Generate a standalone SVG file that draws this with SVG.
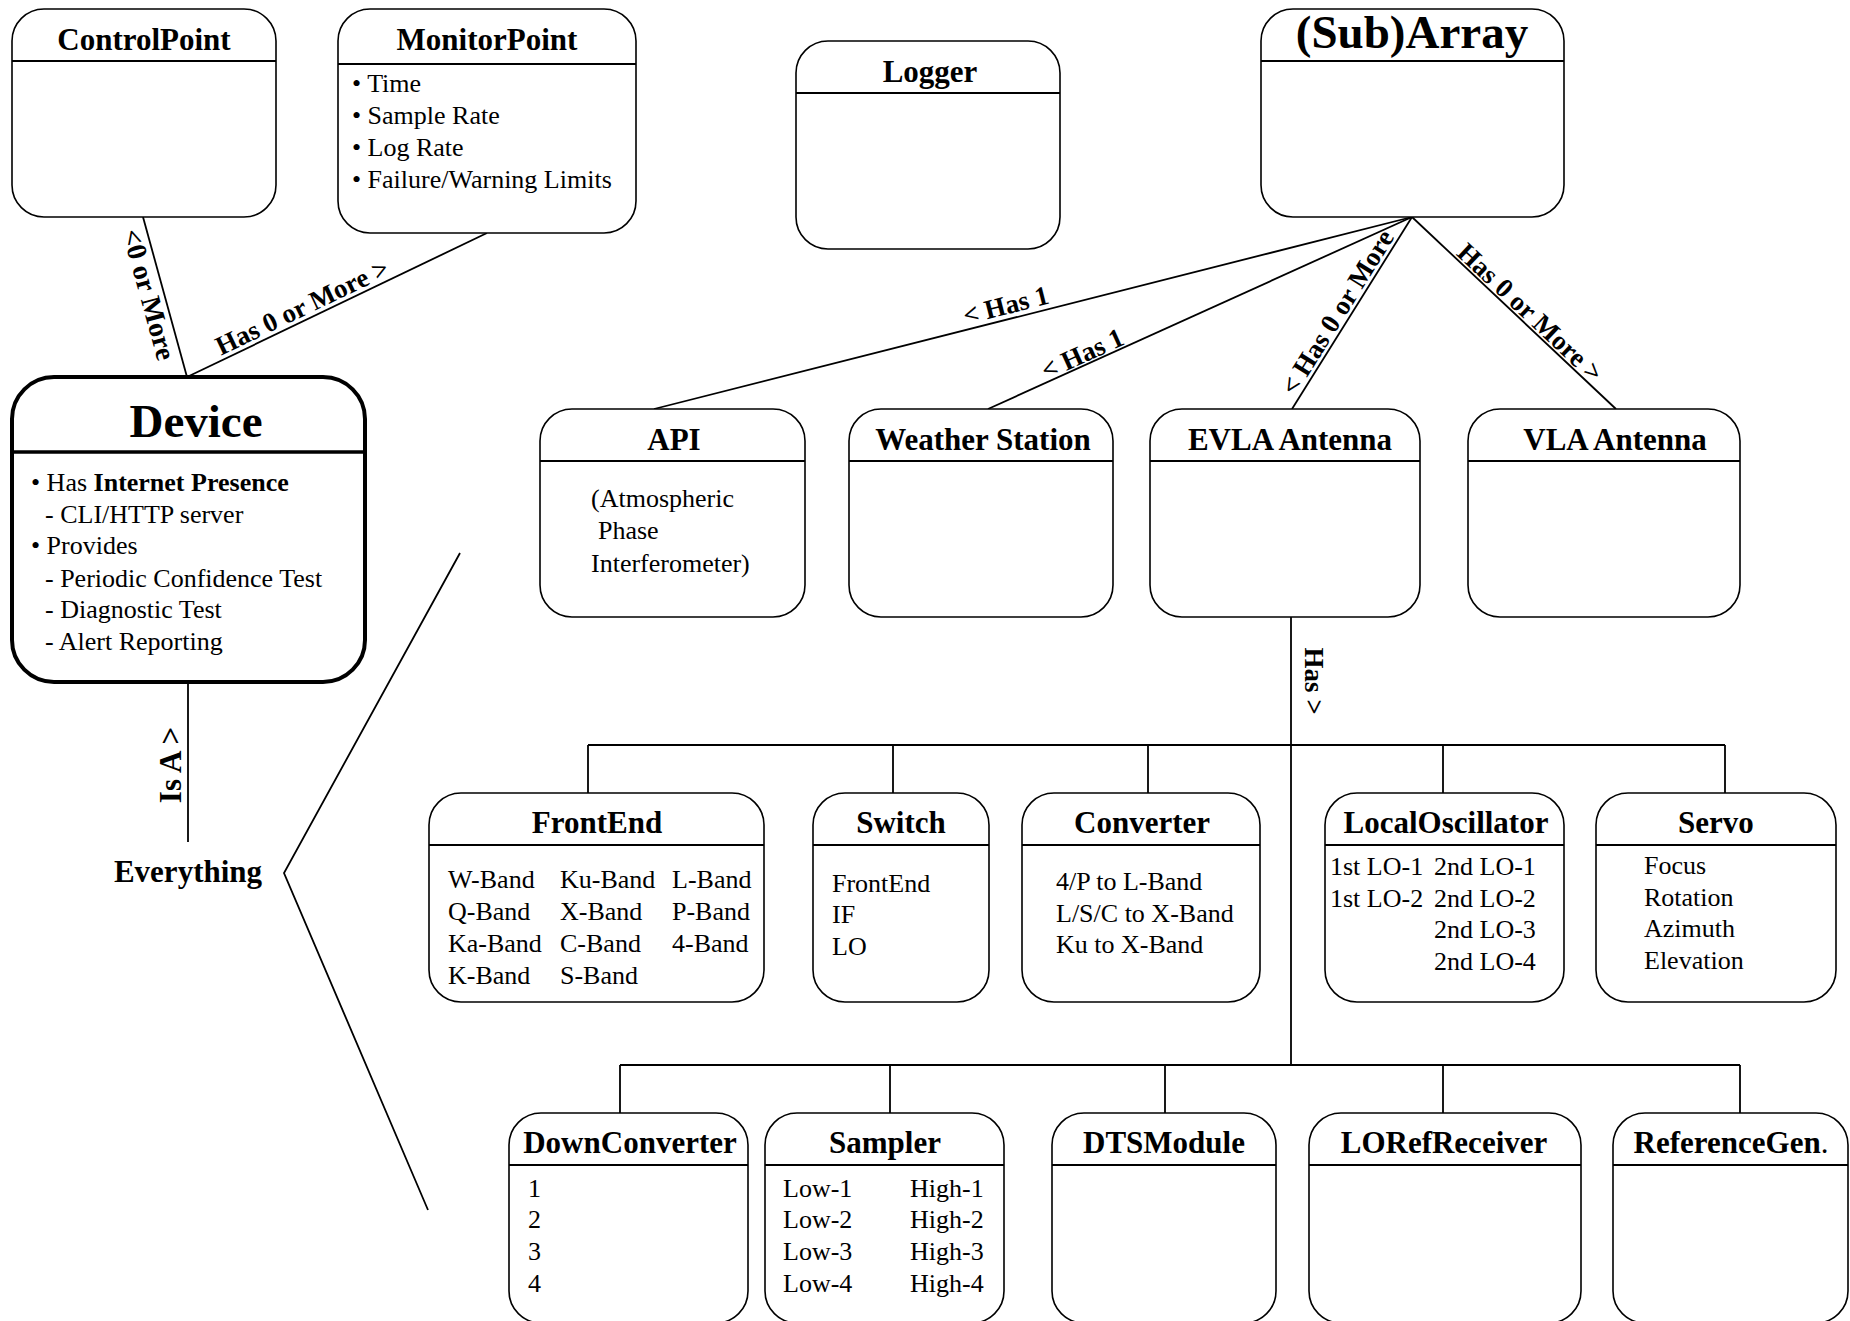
<svg xmlns="http://www.w3.org/2000/svg" width="1850" height="1321" viewBox="0 0 1850 1321">
<style>
.box{fill:#fff;stroke:#000;stroke-width:1.6}
.dev{fill:#fff;stroke:#000;stroke-width:4}
.hdr{stroke:#000;stroke-width:2.2}
.t{font-family:"Liberation Serif","Times New Roman",serif;font-weight:bold;font-size:31px;text-anchor:middle;fill:#000}
.b{font-family:"Liberation Serif","Times New Roman",serif;font-size:26px;fill:#000}
.lbl{font-family:"Liberation Serif","Times New Roman",serif;font-weight:bold;font-size:27px;text-anchor:middle;fill:#000}
.c{fill:none;stroke:#000;stroke-width:1.8}
</style>
<rect width="1850" height="1321" fill="#fff"/>

<g id="connectors">
<line class="c" x1="143" y1="217" x2="187" y2="377"/>
<line class="c" x1="487" y1="233" x2="187" y2="377"/>
<line class="c" x1="188" y1="682" x2="188" y2="842"/>
<polyline class="c" points="460,553 284,873 428,1210"/>
<line class="c" x1="1412" y1="217" x2="654" y2="409"/>
<line class="c" x1="1412" y1="217" x2="988" y2="409"/>
<line class="c" x1="1412" y1="217" x2="1292" y2="409"/>
<line class="c" x1="1412" y1="217" x2="1616" y2="409"/>
<line class="c" x1="1291" y1="617" x2="1291" y2="1065"/>
<line class="c" x1="588" y1="745" x2="1725" y2="745"/>
<path class="c" d="M588 745V793M893 745V793M1148 745V793M1443 745V793M1725 745V793"/>
<line class="c" x1="620" y1="1065" x2="1740" y2="1065"/>
<path class="c" d="M620 1065V1113M890 1065V1113M1165 1065V1113M1443 1065V1113M1740 1065V1113"/>
<text class="lbl" style="font-size:28px" transform="translate(140,297) rotate(74.6)">&lt;0 or More</text>
<text class="lbl" transform="translate(306,315) rotate(-25.6)">Has 0 or More &gt;</text>
<text class="lbl" transform="translate(1008,314) rotate(-14.2)">&lt; Has 1</text>
<text class="lbl" transform="translate(1086,362) rotate(-24.4)">&lt; Has 1</text>
<text class="lbl" transform="translate(1345,317) rotate(-58)">&lt; Has 0 or More</text>
<text class="lbl" transform="translate(1524,319) rotate(43.3)">Has 0 or More &gt;</text>
<text class="lbl" transform="translate(1305,681) rotate(90)">Has &gt;</text>
<text class="lbl" style="font-size:31px" transform="translate(181,765) rotate(-90)">Is A &gt;</text>
</g>

<g id="controlpoint">
<rect class="box" x="12" y="9" width="264" height="208" rx="32"/>
<line class="hdr" x1="12" y1="61" x2="276" y2="61"/>
<text class="t" x="144" y="50">ControlPoint</text>
</g>

<g id="monitorpoint">
<rect class="box" x="338" y="9" width="298" height="224" rx="32"/>
<line class="hdr" x1="338" y1="64" x2="636" y2="64"/>
<text class="t" x="487" y="50">MonitorPoint</text>
<text class="b" x="352" y="92">• Time</text>
<text class="b" x="352" y="124">• Sample Rate</text>
<text class="b" x="352" y="156">• Log Rate</text>
<text class="b" x="352" y="188">• Failure/Warning Limits</text>
</g>

<g id="logger">
<rect class="box" x="796" y="41" width="264" height="208" rx="32"/>
<line class="hdr" x1="796" y1="93" x2="1060" y2="93"/>
<text class="t" x="930" y="82">Logger</text>
</g>

<g id="subarray">
<rect class="box" x="1261" y="9" width="303" height="208" rx="32"/>
<line class="hdr" x1="1261" y1="61" x2="1564" y2="61"/>
<text class="t" x="1412" y="48" style="font-size:47px">(Sub)Array</text>
</g>

<g id="device">
<rect class="dev" x="12" y="377" width="353" height="305" rx="42"/>
<line x1="12" y1="452" x2="365" y2="452" stroke="#000" stroke-width="3.5"/>
<text class="t" x="196" y="437" style="font-size:47px">Device</text>
<text class="b" x="31" y="491">• Has <tspan font-weight="bold">Internet Presence</tspan></text>
<text class="b" x="45" y="523">- CLI/HTTP server</text>
<text class="b" x="31" y="554">• Provides</text>
<text class="b" x="45" y="587">- Periodic Confidence Test</text>
<text class="b" x="45" y="618">- Diagnostic Test</text>
<text class="b" x="45" y="650">- Alert Reporting</text>
</g>

<g id="everything">
<text class="t" x="188" y="882">Everything</text>
</g>

<g id="api">
<rect class="box" x="540" y="409" width="265" height="208" rx="32"/>
<line class="hdr" x1="540" y1="461" x2="805" y2="461"/>
<text class="t" x="674" y="450">API</text>
<text class="b" x="591" y="507">(Atmospheric</text>
<text class="b" x="598" y="539">Phase</text>
<text class="b" x="591" y="572">Interferometer)</text>
</g>

<g id="weatherstation">
<rect class="box" x="849" y="409" width="264" height="208" rx="32"/>
<line class="hdr" x1="849" y1="461" x2="1113" y2="461"/>
<text class="t" x="983" y="450">Weather Station</text>
</g>

<g id="evla">
<rect class="box" x="1150" y="409" width="270" height="208" rx="32"/>
<line class="hdr" x1="1150" y1="461" x2="1420" y2="461"/>
<text class="t" x="1290" y="450">EVLA Antenna</text>
</g>

<g id="vla">
<rect class="box" x="1468" y="409" width="272" height="208" rx="32"/>
<line class="hdr" x1="1468" y1="461" x2="1740" y2="461"/>
<text class="t" x="1615" y="450">VLA Antenna</text>
</g>

<g id="frontend">
<rect class="box" x="429" y="793" width="335" height="209" rx="32"/>
<line class="hdr" x1="429" y1="845" x2="764" y2="845"/>
<text class="t" x="597" y="833">FrontEnd</text>
<text class="b" x="448" y="888">W-Band</text>
<text class="b" x="560" y="888">Ku-Band</text>
<text class="b" x="672" y="888">L-Band</text>
<text class="b" x="448" y="920">Q-Band</text>
<text class="b" x="560" y="920">X-Band</text>
<text class="b" x="672" y="920">P-Band</text>
<text class="b" x="448" y="952">Ka-Band</text>
<text class="b" x="560" y="952">C-Band</text>
<text class="b" x="672" y="952">4-Band</text>
<text class="b" x="448" y="984">K-Band</text>
<text class="b" x="560" y="984">S-Band</text>
</g>

<g id="switch">
<rect class="box" x="813" y="793" width="176" height="209" rx="32"/>
<line class="hdr" x1="813" y1="845" x2="989" y2="845"/>
<text class="t" x="901" y="833">Switch</text>
<text class="b" x="832" y="892">FrontEnd</text>
<text class="b" x="832" y="923">IF</text>
<text class="b" x="832" y="955">LO</text>
</g>

<g id="converter">
<rect class="box" x="1022" y="793" width="238" height="209" rx="32"/>
<line class="hdr" x1="1022" y1="845" x2="1260" y2="845"/>
<text class="t" x="1142" y="833">Converter</text>
<text class="b" x="1056" y="890">4/P to L-Band</text>
<text class="b" x="1056" y="922">L/S/C to X-Band</text>
<text class="b" x="1056" y="953">Ku to X-Band</text>
</g>

<g id="localoscillator">
<rect class="box" x="1325" y="793" width="239" height="209" rx="32"/>
<line class="hdr" x1="1325" y1="845" x2="1564" y2="845"/>
<text class="t" x="1446" y="833">LocalOscillator</text>
<text class="b" x="1330" y="875">1st LO-1</text>
<text class="b" x="1330" y="907">1st LO-2</text>
<text class="b" x="1434" y="875">2nd LO-1</text>
<text class="b" x="1434" y="907">2nd LO-2</text>
<text class="b" x="1434" y="938">2nd LO-3</text>
<text class="b" x="1434" y="970">2nd LO-4</text>
</g>

<g id="servo">
<rect class="box" x="1596" y="793" width="240" height="209" rx="32"/>
<line class="hdr" x1="1596" y1="845" x2="1836" y2="845"/>
<text class="t" x="1716" y="833">Servo</text>
<text class="b" x="1644" y="874">Focus</text>
<text class="b" x="1644" y="906">Rotation</text>
<text class="b" x="1644" y="937">Azimuth</text>
<text class="b" x="1644" y="969">Elevation</text>
</g>

<g id="downconverter">
<rect class="box" x="509" y="1113" width="239" height="210" rx="32"/>
<line class="hdr" x1="509" y1="1165" x2="748" y2="1165"/>
<text class="t" x="630" y="1153">DownConverter</text>
<text class="b" x="528" y="1197">1</text>
<text class="b" x="528" y="1228">2</text>
<text class="b" x="528" y="1260">3</text>
<text class="b" x="528" y="1292">4</text>
</g>

<g id="sampler">
<rect class="box" x="765" y="1113" width="239" height="210" rx="32"/>
<line class="hdr" x1="765" y1="1165" x2="1004" y2="1165"/>
<text class="t" x="885" y="1153">Sampler</text>
<text class="b" x="783" y="1197">Low-1</text>
<text class="b" x="783" y="1228">Low-2</text>
<text class="b" x="783" y="1260">Low-3</text>
<text class="b" x="783" y="1292">Low-4</text>
<text class="b" x="910" y="1197">High-1</text>
<text class="b" x="910" y="1228">High-2</text>
<text class="b" x="910" y="1260">High-3</text>
<text class="b" x="910" y="1292">High-4</text>
</g>

<g id="dtsmodule">
<rect class="box" x="1052" y="1113" width="224" height="210" rx="32"/>
<line class="hdr" x1="1052" y1="1165" x2="1276" y2="1165"/>
<text class="t" x="1164" y="1153">DTSModule</text>
</g>

<g id="lorefreceiver">
<rect class="box" x="1309" y="1113" width="272" height="210" rx="32"/>
<line class="hdr" x1="1309" y1="1165" x2="1581" y2="1165"/>
<text class="t" x="1444" y="1153">LORefReceiver</text>
</g>

<g id="referencegen">
<rect class="box" x="1613" y="1113" width="235" height="210" rx="32"/>
<line class="hdr" x1="1613" y1="1165" x2="1848" y2="1165"/>
<text class="t" x="1731" y="1153">ReferenceGen<tspan font-weight="normal">.</tspan></text>
</g>
</svg>
